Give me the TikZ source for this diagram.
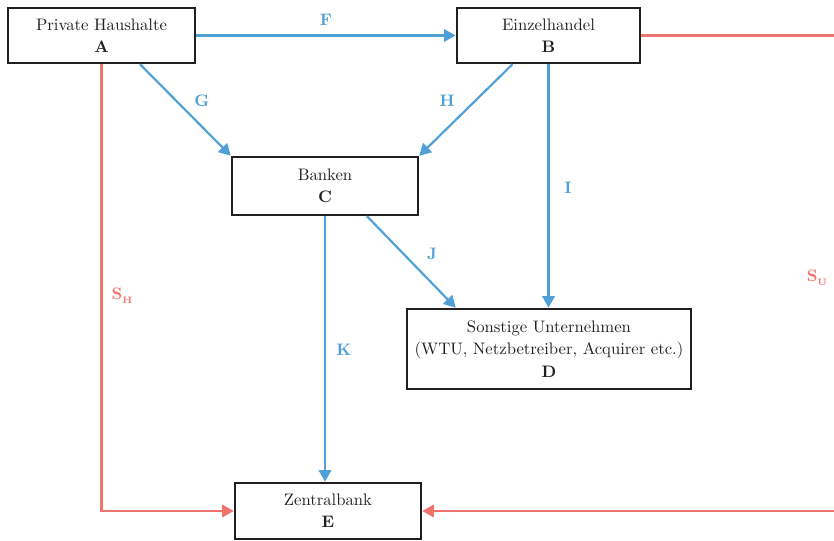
\documentclass[tikz,border=0pt]{standalone}
\usepackage{tikz}
\usetikzlibrary{arrows.meta,calc}
\definecolor{flowblue}{RGB}{80,160,216}
\definecolor{flowred}{RGB}{240,116,110}
\definecolor{boxline}{RGB}{35,31,32}
\newcommand{\sidx}[1]{\raisebox{-2.2pt}{\fontsize{5.6}{6}\selectfont #1}}
\tikzset{
  box/.style={draw=boxline, line width=1.5pt, rectangle, align=center, inner sep=0pt,
    text=boxline, font=\fontsize{10}{13.4}\selectfont},
  flow/.style={draw=flowblue, line width=1.3pt, -{Triangle[length=7pt,width=7.5pt]}},
  money/.style={draw=flowred, line width=1.3pt, -{Triangle[length=7pt,width=7.5pt]}},
  lab/.style={text=flowblue, inner sep=0pt, font=\fontsize{10}{12}\selectfont\bfseries},
  slab/.style={text=flowred, inner sep=0pt, font=\fontsize{10}{12}\selectfont\bfseries},
}

\begin{document}
\begin{tikzpicture}[x=0.6pt,y=-0.6pt]
    \clip (0,0) rectangle (834,541);
    \node[box, minimum width=112.2pt, minimum height=33pt]   (A) at (101.5,35.5) {Private Haushalte\\\textbf{A}};
    \node[box, minimum width=110pt, minimum height=33pt]     (B) at (548.5,35.5) {Einzelhandel\\\textbf{B}};
    \node[box, minimum width=111.6pt, minimum height=34.8pt] (C) at (325,186)    {Banken\\\textbf{C}};
    \node[box, minimum width=170.4pt, minimum height=48pt]   (D) at (549,349)    {Sonstige Unternehmen\\(WTU, Netzbetreiber, Acquirer etc.)\\\textbf{D}};
    \node[box, minimum width=111.6pt, minimum height=33.6pt] (E) at (328,511)    {Zentralbank\\\textbf{E}};
    \coordinate (rim) at (870,36);

    \draw[flow] (A) -- (B);
    \draw[flow] ($(A.south)+(38.5,0)$) -- (C.north west);
    \draw[flow] ($(B.south)+(-36,0)$) -- (C.north east);
    \draw[flow] (B.south) -- (B.south |- D.north);
    \draw[flow] ($(C.south)+(42,0)$) -- ($(D.north west)+(50,0)$);
    \draw[flow] (C.south) -- (C.south |- E.north);
    \draw[money] (A.south) -- (A.south |- E.west) -- (E.west);
    \draw[money] (B.east) -- (B.east -| rim) -- (rim |- E.east) -- (E.east);

    \node[lab] (lF) at (326,20)  {F};
    \node[lab] (lG) at (202,101) {G};
    \node[lab] (lH) at (447,101) {H};
    \node[lab] (lI) at (568,188) {I};
    \node[lab] (lJ) at (432,254) {J};
    \node[lab] (lK) at (344,350) {K};
    \node[slab] (lSH) at (122,296) {S\sidx{H}};
    \node[slab] (lSU) at (817,278) {S\sidx{U}};
\end{tikzpicture}
\end{document}
